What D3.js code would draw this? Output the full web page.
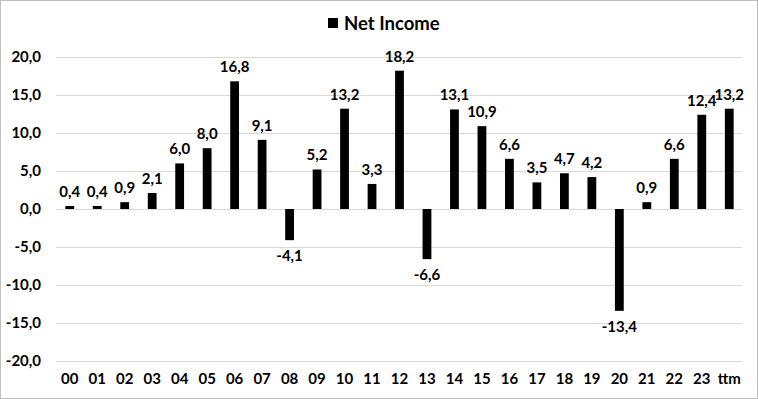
<!DOCTYPE html>
<html><head><meta charset="utf-8">
<script src="https://cdn.jsdelivr.net/npm/d3@7"></script>
<style>
html,body{margin:0;padding:0;background:#fff;}
svg{display:block;font-family:Lato,"Open Sans",sans-serif;font-weight:bold;}
</style></head>
<body>
<script>
const categories = ["00","01","02","03","04","05","06","07","08","09","10","11","12","13","14","15","16","17","18","19","20","21","22","23","ttm"];
const netIncome = [0.4,0.4,0.9,2.1,6.0,8.0,16.8,9.1,-4.1,5.2,13.2,3.3,18.2,-6.6,13.1,10.9,6.6,3.5,4.7,4.2,-13.4,0.9,6.6,12.4,13.2];
const yTicks = [-20,-15,-10,-5,0,5,10,15,20];
const seriesName = "Net Income";

const W = 758, H = 399;
const svg = d3.select("body").append("svg").attr("width", W).attr("height", H);
svg.append("rect").attr("x",0.5).attr("y",0.5).attr("width",W-1).attr("height",H-1)
  .attr("fill","#fff").attr("stroke","#bfbfbf").attr("stroke-width",1);

const x = d3.scaleBand().domain(categories).range([56, 743]).paddingInner(0.68).paddingOuter(0.34);
const y = d3.scaleLinear().domain([-20, 20]).range([361, 57]);

const fmt = v => d3.format(".1f")(v).replace(".", ",").replace("−","-");

// gridlines
svg.append("g").selectAll("line").data(yTicks).join("line")
  .attr("x1", 56).attr("x2", 742)
  .attr("y1", d => Math.round(y(d)) + 0.5).attr("y2", d => Math.round(y(d)) + 0.5)
  .attr("stroke", "#d9d9d9").attr("stroke-width", 1);

// y axis labels
const yAxis = d3.axisLeft(y).tickValues(yTicks).tickFormat(fmt).tickSize(0).tickPadding(0);
const gy = svg.append("g").attr("transform", "translate(41,0)").call(yAxis);
gy.select(".domain").remove();
gy.selectAll("text").attr("font-size", 15).attr("font-family", "Lato, sans-serif").attr("font-weight","bold").attr("fill", "#000");

// x axis labels
const xAxis = d3.axisBottom(x).tickSize(0).tickPadding(0);
const gx = svg.append("g").attr("transform", "translate(0,373)").call(xAxis);
gx.select(".domain").remove();
gx.selectAll("text").attr("font-size", 15).attr("font-family", "Lato, sans-serif").attr("font-weight","bold").attr("fill", "#000");

// bars
svg.append("g").selectAll("rect").data(netIncome).join("rect")
  .attr("x", (d, i) => x(categories[i]))
  .attr("width", x.bandwidth())
  .attr("y", d => y(Math.max(0, d)))
  .attr("height", d => Math.abs(y(d) - y(0)))
  .attr("fill", "#000");

// value labels
svg.append("g").selectAll("text").data(netIncome).join("text")
  .attr("x", (d, i) => x(categories[i]) + x.bandwidth() / 2)
  .attr("y", d => d >= 0 ? y(d) - 9 : y(d) + 21)
  .attr("text-anchor", "middle")
  .attr("font-size", 15)
  .attr("fill", "#000")
  .text(d => fmt(d));

// legend
const lg = svg.append("g");
lg.append("rect").attr("x", 328).attr("y", 18).attr("width", 10).attr("height", 10).attr("fill", "#000");
lg.append("text").attr("x", 344).attr("y", 30).attr("font-size", 18.5).attr("fill", "#000").text(seriesName);
</script>
</body></html>
